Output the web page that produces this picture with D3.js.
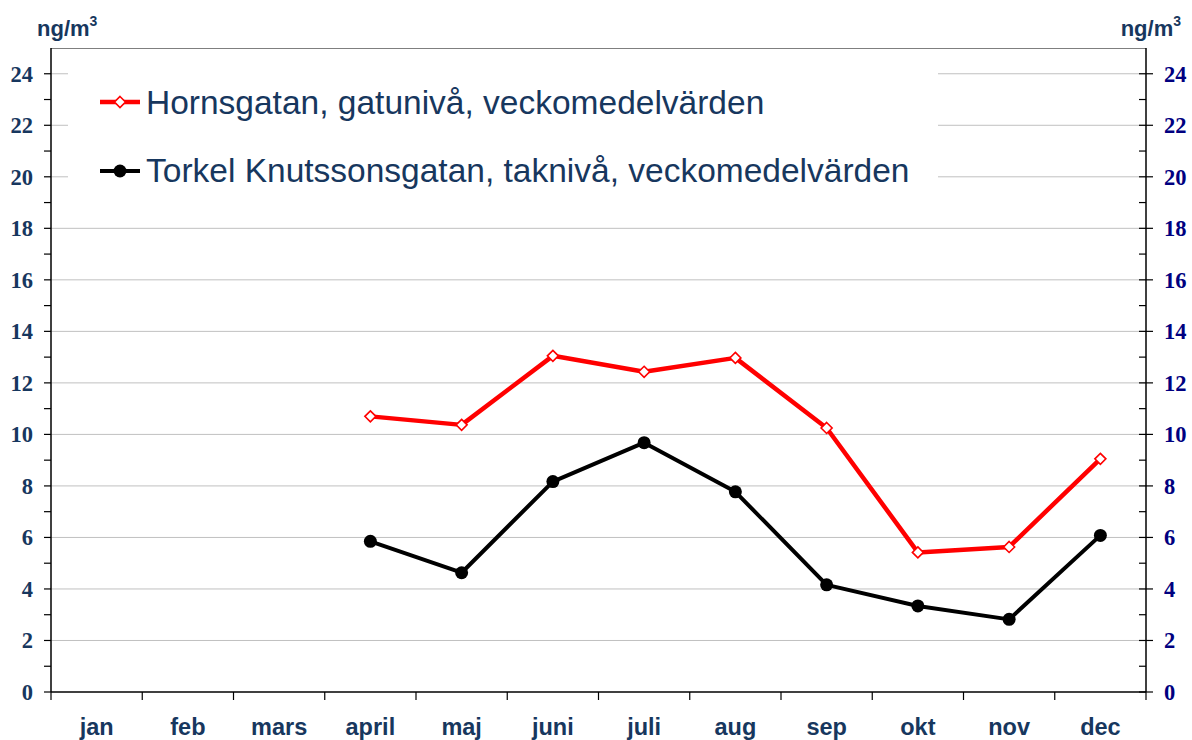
<!DOCTYPE html>
<html><head><meta charset="utf-8">
<script src="https://cdn.jsdelivr.net/npm/d3@7/dist/d3.min.js"></script>
<style>body{margin:0;background:#fff}svg{display:block}</style>
</head><body>
<svg id="c" width="1192" height="740"></svg>
<script>
const months = ["jan","feb","mars","april","maj","juni","juli","aug","sep","okt","nov","dec"];
const hornsgatan = [null,null,null,10.7,10.37,13.05,12.43,12.97,10.25,5.42,5.63,9.05];
const torkel = [null,null,null,5.85,4.63,8.17,9.68,7.77,4.16,3.34,2.82,6.08];
const yTicks = [0,2,4,6,8,10,12,14,16,18,20,22,24];
const seriesNames = ["Hornsgatan, gatunivå, veckomedelvärden","Torkel Knutssonsgatan, taknivå, veckomedelvärden"];
const unit = "ng/m";

const svg = d3.select("#c");
const L = 51, R = 1146, T = 48, B = 692;
const x = d3.scaleBand().domain(months).range([L, R]).padding(0);
const y = d3.scaleLinear().domain([0, 25]).range([B, T]);
const navy = "#17375e";

// gridlines
svg.append("g").selectAll("line").data(yTicks.filter(d=>d>0)).join("line")
  .attr("x1", L).attr("x2", R).attr("y1", d=>y(d)).attr("y2", d=>y(d))
  .attr("stroke", "#c0c0c0").attr("stroke-width", 1);

// top border
svg.append("line").attr("x1", L).attr("x2", R).attr("y1", T+0.5).attr("y2", T+0.5)
  .attr("stroke", "#7f7f7f").attr("stroke-width", 1);

// legend box (white, covers gridlines)
svg.append("rect").attr("x", 68).attr("y", 56).attr("width", 870).attr("height", 146).attr("fill", "#fff");

// left axis
const minor = d3.range(1, 25, 2);
const gl = svg.append("g");
gl.append("line").attr("x1", L).attr("x2", L).attr("y1", T).attr("y2", B).attr("stroke", "#000").attr("stroke-width", 1.5);
gl.selectAll("line.t").data(yTicks.concat(minor)).join("line").attr("class","t")
  .attr("x1", L-7).attr("x2", L).attr("y1", d=>y(d)).attr("y2", d=>y(d)).attr("stroke", "#000").attr("stroke-width", 1.2);
gl.selectAll("text").data(yTicks).join("text")
  .attr("x", 33).attr("y", d=>y(d)+8).attr("text-anchor", "end")
  .attr("font-family", "Liberation Serif, serif").attr("font-weight", "bold").attr("font-size", 22.5)
  .attr("fill", navy).text(d=>d);

// right axis
const gr = svg.append("g");
gr.append("line").attr("x1", R).attr("x2", R).attr("y1", T).attr("y2", B).attr("stroke", "#000").attr("stroke-width", 1.5);
gr.selectAll("line.M").data(yTicks).join("line").attr("class","M")
  .attr("x1", R-7).attr("x2", R+7).attr("y1", d=>y(d)).attr("y2", d=>y(d)).attr("stroke", "#000").attr("stroke-width", 1.2);
gr.selectAll("line.m").data(minor).join("line").attr("class","m")
  .attr("x1", R-7).attr("x2", R).attr("y1", d=>y(d)).attr("y2", d=>y(d)).attr("stroke", "#000").attr("stroke-width", 1.2);
gr.selectAll("text").data(yTicks).join("text")
  .attr("x", 1164).attr("y", d=>y(d)+8).attr("text-anchor", "start")
  .attr("font-family", "Liberation Serif, serif").attr("font-weight", "bold").attr("font-size", 22.5)
  .attr("fill", "#000080").text(d=>d);

// x axis
const gx = svg.append("g");
gx.append("line").attr("x1", L).attr("x2", R).attr("y1", B).attr("y2", B).attr("stroke", "#000").attr("stroke-width", 1.5);
const bounds = months.map(m=>x(m)).concat([R]);
gx.selectAll("line.t").data(bounds).join("line").attr("class","t")
  .attr("x1", d=>d).attr("x2", d=>d).attr("y1", B).attr("y2", B+8).attr("stroke", "#000").attr("stroke-width", 1.2);
gx.selectAll("text").data(months).join("text")
  .attr("x", d=>x(d)+x.bandwidth()/2).attr("y", 735).attr("text-anchor", "middle")
  .attr("font-family", "Liberation Sans, Arial, sans-serif").attr("font-weight", "bold").attr("font-size", 23.5)
  .attr("fill", navy).text(d=>d);

// unit labels
function unitLabel(xPos, anchor) {
  const t = svg.append("text").attr("x", xPos).attr("y", 36).attr("text-anchor", anchor)
    .attr("font-family", "Liberation Sans, Arial, sans-serif").attr("font-weight", "bold").attr("font-size", 22)
    .attr("fill", navy);
  t.append("tspan").text(unit);
  t.append("tspan").attr("font-size", 14).attr("dy", -10).text("3");
}
unitLabel(37, "start");
unitLabel(1181, "end");

// lines
const cx = i => x(months[i]) + x.bandwidth()/2;
const line = d3.line().defined(d=>d.v!=null).x(d=>cx(d.i)).y(d=>y(d.v));
const hData = hornsgatan.map((v,i)=>({v,i}));
const tData = torkel.map((v,i)=>({v,i}));

svg.append("path").datum(tData).attr("d", line).attr("fill","none").attr("stroke","#000").attr("stroke-width",4).attr("stroke-linejoin","round");
svg.append("path").datum(hData).attr("d", line).attr("fill","none").attr("stroke","#ff0000").attr("stroke-width",4.5).attr("stroke-linejoin","round");

svg.append("g").selectAll("circle").data(tData.filter(d=>d.v!=null)).join("circle")
  .attr("cx", d=>cx(d.i)).attr("cy", d=>y(d.v)).attr("r", 6.5).attr("fill","#000");

const diamond = (cxp, cyp, s) => `M${cxp},${cyp-s}L${cxp+s},${cyp}L${cxp},${cyp+s}L${cxp-s},${cyp}Z`;
svg.append("g").selectAll("path").data(hData.filter(d=>d.v!=null)).join("path")
  .attr("d", d=>diamond(cx(d.i), y(d.v), 5.5)).attr("fill","#fff").attr("stroke","#ff0000").attr("stroke-width",1.6);

// legend
const leg = svg.append("g");
const legY = [102, 171];
leg.append("line").attr("x1",100).attr("x2",140).attr("y1",legY[0]).attr("y2",legY[0]).attr("stroke","#ff0000").attr("stroke-width",4.5);
leg.append("path").attr("d", diamond(120, legY[0], 5.5)).attr("fill","#fff").attr("stroke","#ff0000").attr("stroke-width",1.6);
leg.append("line").attr("x1",100).attr("x2",140).attr("y1",legY[1]).attr("y2",legY[1]).attr("stroke","#000").attr("stroke-width",4);
leg.append("circle").attr("cx",120).attr("cy",legY[1]).attr("r",6.5).attr("fill","#000");
leg.selectAll("text").data(seriesNames).join("text")
  .attr("x", 146).attr("y", (d,i)=>[114,182][i]).attr("font-family","Liberation Sans, Arial, sans-serif")
  .attr("font-size", 33.5).attr("fill", navy).text(d=>d);
</script>
</body></html>
